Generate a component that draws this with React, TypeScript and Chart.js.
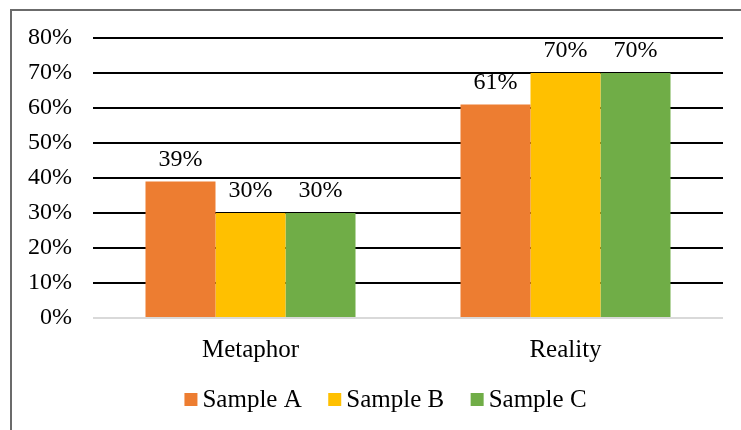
import React, { useEffect, useRef } from "react";
import { Chart, registerables } from "chart.js";

Chart.register(...registerables);

const categories = ["Metaphor", "Reality"];
const seriesNames = ["Sample A", "Sample B", "Sample C"];
const sampleA = [39, 61];
const sampleB = [30, 70];
const sampleC = [30, 70];
const seriesColors = ["#ED7D31", "#FFC000", "#70AD47"];
const yMax = 80;
const yStep = 10;

const FONT = "'Liberation Serif', 'Times New Roman', serif";

const frame = {
  id: "frame",
  beforeDraw(chart: any) {
    const { ctx } = chart;
    ctx.save();
    ctx.fillStyle = "#ffffff";
    ctx.fillRect(0, 0, chart.width, chart.height);
    ctx.strokeStyle = "#6b6b6b";
    ctx.lineWidth = 2;
    ctx.beginPath();
    ctx.moveTo(11, chart.height + 5);
    ctx.lineTo(11, 10);
    ctx.lineTo(chart.width + 5, 10);
    ctx.stroke();
    ctx.restore();
  },
};

const dataLabels = {
  id: "dataLabels",
  afterDatasetsDraw(chart: any) {
    const { ctx } = chart;
    ctx.save();
    ctx.font = `24px ${FONT}`;
    ctx.fillStyle = "#000";
    ctx.textAlign = "center";
    ctx.textBaseline = "alphabetic";
    chart.data.datasets.forEach((ds: any, i: number) => {
      const meta = chart.getDatasetMeta(i);
      meta.data.forEach((el: any, j: number) => {
        ctx.fillText(`${ds.data[j]}%`, el.x, el.y - 16);
      });
    });
    ctx.restore();
  },
};

const customLegend = {
  id: "customLegend",
  afterDraw(chart: any) {
    const { ctx } = chart;
    ctx.save();
    ctx.font = `25px ${FONT}`;
    const box = 13;
    const gap = 5;
    const itemGap = 26.5;
    const items = chart.data.datasets.map((ds: any) => ({
      label: ds.label,
      color: ds.backgroundColor,
      w: ctx.measureText(ds.label).width,
    }));
    const total =
      items.reduce((s: number, it: any) => s + box + gap + it.w, 0) +
      itemGap * (items.length - 1);
    let x = 385.5 - total / 2;
    const baseline = 407;
    items.forEach((it: any) => {
      ctx.fillStyle = it.color;
      ctx.fillRect(x, baseline - 14, box, box);
      ctx.fillStyle = "#000";
      ctx.textAlign = "left";
      ctx.textBaseline = "alphabetic";
      ctx.fillText(it.label, x + box + gap, baseline);
      x += box + gap + it.w + itemGap;
    });
    ctx.restore();
  },
};

export default function App() {
  const ref = useRef<HTMLCanvasElement | null>(null);

  useEffect(() => {
    if (!ref.current) return;
    const seriesData = [sampleA, sampleB, sampleC];
    const chart = new Chart(ref.current, {
      type: "bar",
      data: {
        labels: categories,
        datasets: seriesNames.map((name, i) => ({
          label: name,
          data: seriesData[i],
          backgroundColor: seriesColors[i],
          borderWidth: 0,
          categoryPercentage: 0.6667,
          barPercentage: 1,
        })),
      },
      options: {
        animation: false,
        responsive: false,
        maintainAspectRatio: false,
        layout: { padding: { left: 12, right: 18, top: 38, bottom: 62 } },
        plugins: {
          legend: { display: false },
          tooltip: { enabled: false },
          title: { display: false },
        },
        scales: {
          x: {
            grid: { display: false, drawTicks: false },
            border: { display: false },
            ticks: {
              color: "#000",
              font: { family: FONT, size: 25 },
              padding: 17,
            },
            afterFit(scale: any) {
              scale.height = 50;
            },
          },
          y: {
            min: 0,
            max: yMax,
            grid: {
              drawTicks: false,
              lineWidth: 2,
              color: (c: any) => (c.tick && c.tick.value === 0 ? "#d9d9d9" : "#000"),
            },
            border: { display: false },
            ticks: {
              stepSize: yStep,
              color: "#000",
              font: { family: FONT, size: 24 },
              padding: 21,
              callback: (v: any) => `${v}%`,
            },
            afterFit(scale: any) {
              scale.width = 81;
            },
          },
        },
      },
      plugins: [frame, dataLabels, customLegend],
    });
    return () => chart.destroy();
  }, []);

  return (
    <div
      style={{
        position: "fixed",
        left: 0,
        top: 0,
        width: 741,
        height: 430,
        overflow: "hidden",
        background: "#fff",
      }}
    >
      <canvas ref={ref} width={741} height={430} style={{ display: "block" }} />
    </div>
  );
}
